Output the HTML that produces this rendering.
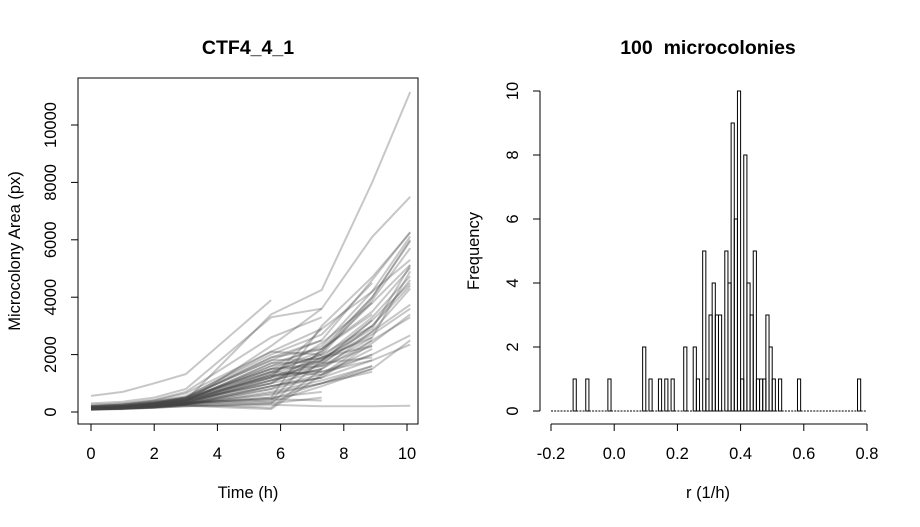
<!DOCTYPE html>
<html><head><meta charset="utf-8"><style>
body{margin:0;background:#fff}
svg text{font-family:"Liberation Sans",sans-serif;fill:#000}
</style></head><body>
<svg id="chart" width="920" height="522" viewBox="0 0 920 522" xmlns="http://www.w3.org/2000/svg">
<rect width="920" height="522" fill="#fff"/>
<g id="left"></g>
<g id="right"></g>
</svg>
<script>
// ---- left panel data ----
const times = [0, 1, 2, 3, 5.7, 7.3, 8.9, 10.1];
const areaSeries = [
 [150,200,280,400,3400,4250,8000,11150],
 [120,150,220,350,2300,3600,6100,7500],
 [560,700,1000,1320,3900,null,null,null],
 [100,120,150,200,250,200,200,220],
 [200,250,350,500,1800,2500,4600,6270],
 [150,200,300,450,1600,2300,4200,6120],
 [180,220,320,480,1500,2100,4000,5950],
 [120,160,240,350,1400,2000,3900,5710],
 [100,140,200,300,1300,2400,3800,5130],
 [130,170,250,380,1700,2200,3500,5020],
 [90,120,180,280,1200,1900,3300,4730],
 [110,150,220,330,1350,1800,3200,4490],
 [150,190,280,420,1500,1700,2800,3740],
 [100,130,200,300,1100,1500,2500,3300],
 [80,110,160,250,900,1300,2000,2670],
 [90,120,170,260,800,1200,1800,2350],
 [200,260,380,550,2000,2700,4500,null],
 [170,210,300,460,1900,2200,3400,null],
 [140,180,260,390,1600,1900,2600,null],
 [110,150,220,330,1200,1600,2300,null],
 [100,130,190,280,1000,1400,2000,null],
 [90,120,170,260,700,1100,1600,null],
 [250,300,420,700,2600,3300,null,null],
 [220,280,400,650,2100,2900,null,null],
 [160,200,300,500,1900,2500,null,null],
 [130,170,240,400,1400,2000,null,null],
 [100,130,190,300,1100,1500,null,null],
 [80,100,150,250,900,1200,null,null],
 [300,360,500,800,3300,3600,null,null],
 [150,200,300,450,1250,1450,null,null],
 [120,150,210,300,500,3000,4700,6250],
 [100,130,180,260,400,2200,4000,6000],
 [90,120,170,240,300,1800,3000,4600],
 [110,140,190,260,150,1500,2800,4300],
 [100,130,170,220,100,1300,2500,null],
 [130,160,220,300,350,900,1500,2500],
 [140,170,230,320,450,1000,1600,null],
 [180,230,330,500,1800,1850,2900,5100],
 [160,200,290,450,1500,1600,2600,4900],
 [120,160,230,350,1300,1400,1800,null],
 [150,190,270,400,1700,1750,3200,null],
 [200,250,360,520,2100,2000,3000,null],
 [170,220,320,480,1400,1300,2200,null],
 [130,170,250,370,1000,1900,2300,null],
 [100,130,190,280,800,1700,1900,null],
 [140,180,260,400,1250,1650,3000,4400],
 [120,150,210,300,600,1000,1400,null],
 [110,140,200,280,500,700,null,null],
 [90,110,150,200,300,500,null,null],
 [150,180,240,320,450,400,null,null],
 [180,220,300,420,1200,2900,4200,5300],
 [160,200,280,400,1000,2100,3800,null],
 [130,170,240,350,1100,1800,2700,3600],
 [110,140,200,300,900,1200,2400,3400],
 [100,120,170,250,650,1000,1500,null]
];
const yTicks = [0, 2000, 4000, 6000, 8000, 10000];
const xTicks = [0, 2, 4, 6, 8, 10];
// ---- right panel data ----
const binStart = -0.2, binWidth = 0.01, nBins = 100;
const binIdx =   [7,11,18,29,31,34,36,38,42,45,46,48,49,50,51,52,53,55,56,57,58,59,60,61,62,63,64,65,66,67,68,69,70,72,78,97];
const binCount = [1,1,1,2,1,1,1,1,2,2,1,5,1,3,4,3,3,5,4,9,6,10,1,8,4,3,5,1,1,1,3,2,1,1,1,1];
const hxTicks = [-0.2, 0.0, 0.2, 0.4, 0.6, 0.8];
const hxTickLabels = ["-0.2","0.0","0.2","0.4","0.6","0.8"];
const hyTicks = [0, 2, 4, 6, 8, 10];

const NS = "http://www.w3.org/2000/svg";
function mk(parent, tag, attrs, txt){
  const e = document.createElementNS(NS, tag);
  for (const k in attrs) e.setAttribute(k, attrs[k]);
  if (txt !== undefined) e.textContent = txt;
  parent.appendChild(e); return e;
}
const FS = 16.5;
// left axes
const L = document.getElementById('left');
const lx = t => 91 + 31.6 * t;
const ly = v => 412 - 0.0287 * v;
areaSeries.forEach((s) => {
  let d = "";
  s.forEach((v, i) => { if (v !== null) d += (d ? "L" : "M") + lx(times[i]).toFixed(1) + "," + ly(v).toFixed(1); });
  const p = mk(L, "path", {d: d, fill: "none", stroke: "rgba(70,70,70,0.3)", "stroke-width": 2});
  
  
});
const box = mk(L, "rect", {x: 78, y: 78, width: 340, height: 346, fill: "none", stroke: "#000"});


xTicks.forEach(t => {
  mk(L, "line", {x1: lx(t), x2: lx(t), y1: 424, y2: 431, stroke: "#000"});
  const tx = mk(L, "text", {x: lx(t), y: 459, "font-size": FS, "text-anchor": "middle"}, String(t));
  
  
});
yTicks.forEach(v => {
  mk(L, "line", {x1: 78, x2: 71, y1: ly(v), y2: ly(v), stroke: "#000"});
  const tx = mk(L, "text", {x: 0, y: 0, "font-size": FS, "text-anchor": "middle", transform: `translate(56,${ly(v)}) rotate(-90)`}, String(v));
  
  
});
let t1 = mk(L, "text", {x: 248, y: 54, "font-size": 19.5, "font-weight": "bold", "text-anchor": "middle"}, "CTF4_4_1");
 
let t2 = mk(L, "text", {x: 248, y: 498, "font-size": FS, "text-anchor": "middle"}, "Time (h)");
 
let t3 = mk(L, "text", {x: 0, y: 0, "font-size": FS, "text-anchor": "middle", transform: "translate(20,251) rotate(-90)"}, "Microcolony Area (px)");
 

// right histogram
const R = document.getElementById('right');
const hx = v => 551 + 316 * (v + 0.2);
const hy = c => 411 - 32 * c;
const counts = new Array(nBins).fill(0);
binIdx.forEach((b, i) => { counts[b] = binCount[i]; });
const base = mk(R, "line", {x1: hx(binStart), x2: hx(binStart + nBins * binWidth), y1: hy(0), y2: hy(0), stroke: "#000", "stroke-width": 1, "stroke-dasharray": "2,1.16"});


counts.forEach((c, b) => {
  if (c === 0) return;
  const x0 = hx(binStart + b * binWidth), x1 = hx(binStart + (b + 1) * binWidth);
  const r = mk(R, "rect", {x: x0.toFixed(2), y: hy(c), width: (x1 - x0).toFixed(2), height: 32 * c, fill: "none", stroke: "#000", "stroke-width": 1});
  
  
});
mk(R, "line", {x1: 540, x2: 540, y1: hy(0), y2: hy(10), stroke: "#000"});
hyTicks.forEach(v => {
  mk(R, "line", {x1: 540, x2: 533, y1: hy(v), y2: hy(v), stroke: "#000"});
  const tx = mk(R, "text", {x: 0, y: 0, "font-size": FS, "text-anchor": "middle", transform: `translate(518,${hy(v)}) rotate(-90)`}, String(v));
  
  
});
mk(R, "line", {x1: hx(-0.2), x2: hx(0.8), y1: 424, y2: 424, stroke: "#000"});
hxTicks.forEach((v, i) => {
  mk(R, "line", {x1: hx(v), x2: hx(v), y1: 424, y2: 431, stroke: "#000"});
  const tx = mk(R, "text", {x: hx(v), y: 459, "font-size": FS, "text-anchor": "middle"}, hxTickLabels[i]);
  
  
});
let t4 = mk(R, "text", {x: 708, y: 54, "font-size": 19.5, "font-weight": "bold", "text-anchor": "middle", style: "white-space:pre"}, "100\u00a0 microcolonies");
 
let t5 = mk(R, "text", {x: 708, y: 498, "font-size": FS, "text-anchor": "middle"}, "r (1/h)");
 
let t6 = mk(R, "text", {x: 0, y: 0, "font-size": FS, "text-anchor": "middle", transform: "translate(479,251) rotate(-90)"}, "Frequency");
 
</script>
</body></html>
